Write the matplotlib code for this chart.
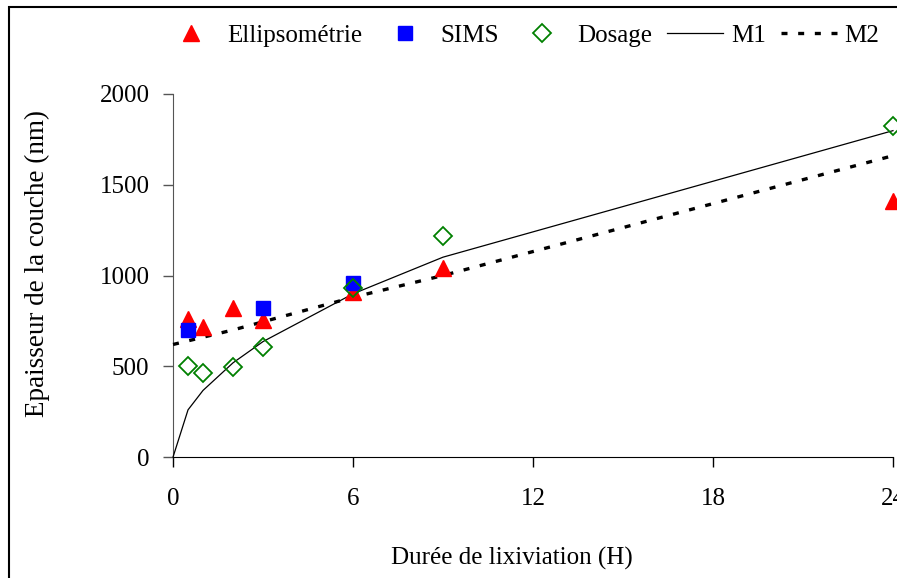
import matplotlib
matplotlib.use("Agg")
import matplotlib.pyplot as plt
from matplotlib.patches import Rectangle

plt.rcParams['font.family'] = ['Liberation Serif', 'DejaVu Serif']

# time (hours)
t_ellip = [0.5, 1, 2, 3, 6, 9, 24]
ellip = [760, 716, 821, 755, 909, 1041, 1410]

t_sims = [0.5, 3, 6]
sims = [700, 821, 958]

t_dos = [0.5, 1, 2, 3, 6, 9, 24]
dosage = [501, 463, 496, 606, 931, 1218, 1824]

t_model = [0, 0.5, 1, 2, 3, 6, 9, 24]
m1 = [0, 260, 367, 519, 636, 899, 1101, 1798]
m2 = [620, 640, 660, 700, 745, 880, 1000, 1660]

fig = plt.figure(figsize=(8.97, 5.78), dpi=100)
ax = fig.add_axes([0.1929, 0.2093, 0.8026, 0.6281])

ax.plot(t_ellip, ellip, '^', color='#FF0000', markersize=12, linestyle='none', label='Ellipsométrie', clip_on=False, zorder=4)
ax.plot(t_sims, sims, 's', color='#0000FF', markersize=10, linestyle='none', label='SIMS', clip_on=False, zorder=4)
ax.plot(t_dos, dosage, 'D', markerfacecolor='none', markeredgecolor='#008000', markeredgewidth=1.3,
        markersize=9, linestyle='none', label='Dosage', clip_on=False, zorder=5)
ax.plot(t_model, m1, '-', color='black', lw=0.9, label='M1', clip_on=False, zorder=3)
ax.plot(t_model, m2, color='black', lw=2.4, linestyle=(0, (1.8, 3.2)), label='M2', clip_on=False, zorder=3)

ax.set_xlim(0, 24)
ax.set_ylim(0, 2000)
ax.set_xticks([0, 6, 12, 18, 24])
ax.set_yticks([0, 500, 1000, 1500, 2000])
ax.spines['top'].set_visible(False)
ax.spines['right'].set_visible(False)
ax.spines['left'].set_color('#555555')
ax.tick_params(axis='x', direction='out', length=7, width=1, pad=15, labelsize=18)
ax.tick_params(axis='y', direction='out', length=7, width=1, pad=10, labelsize=18, color='#555555')

ax.set_xlabel('Durée de lixiviation (H)', fontsize=18)
ax.xaxis.set_label_coords(0.471, -0.248)
ax.set_ylabel('Epaisseur de la couche (nm)', fontsize=19.5)
ax.yaxis.set_label_coords(-0.171, 0.534)

fig.legend(loc='center', bbox_to_anchor=(0.581, 0.938), ncol=5, frameon=False, fontsize=18,
           handlelength=2.24, handletextpad=0.3, columnspacing=0.6, borderaxespad=0)

fig.patches.append(Rectangle((0.0105, -0.1), 1.2, 1.0879, transform=fig.transFigure,
                             fill=False, edgecolor='black', lw=1.5))

fig.savefig('out.png', dpi=100)
